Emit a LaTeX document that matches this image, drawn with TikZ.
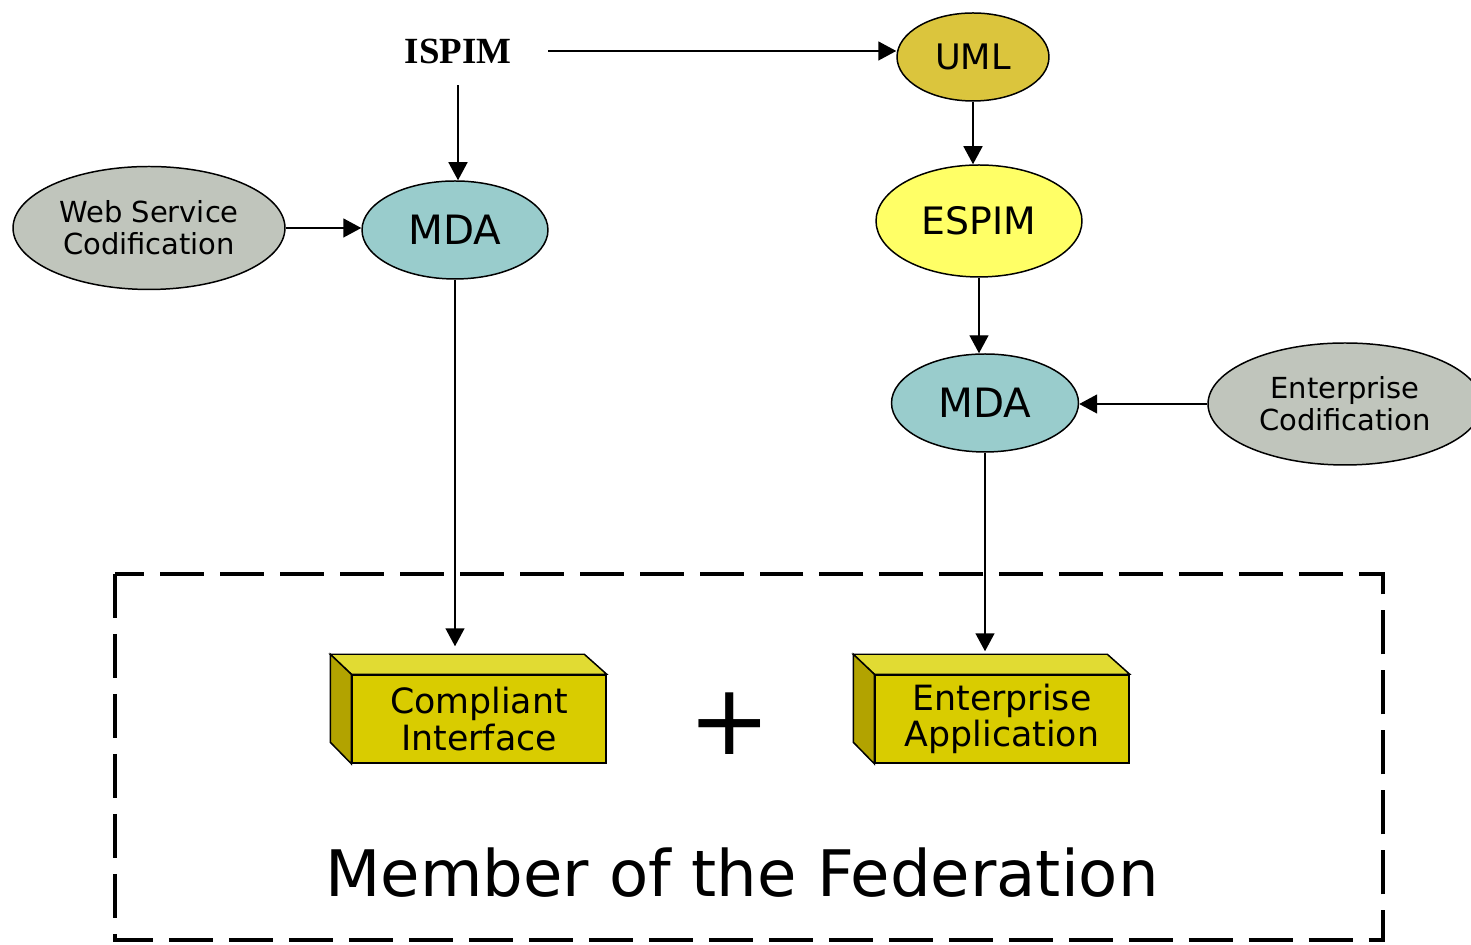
\documentclass[tikz,border=0pt]{standalone}
\usepackage{fontspec}
\setmainfont{DejaVu Sans}
\newfontfamily\ispimfont{Liberation Serif}
\usetikzlibrary{arrows.meta,shapes.geometric}

\definecolor{umlgold}{RGB}{219,197,61}
\definecolor{espimyellow}{RGB}{255,255,102}
\definecolor{mdateal}{RGB}{153,204,204}
\definecolor{codgray}{RGB}{192,197,188}
\definecolor{boxfront}{RGB}{217,204,0}
\definecolor{boxtop}{RGB}{225,219,51}
\definecolor{boxside}{RGB}{178,163,0}

\begin{document}
\begin{tikzpicture}[x=0.02cm,y=0.02cm,
    arr/.style={line width=0.85pt,-{Triangle[length=0.36cm,width=0.38cm]}},
    oval/.style={ellipse,draw,line width=0.85pt,inner sep=0pt,align=center},
    boxline/.style={draw,line width=0.85pt},
    front/.style={rectangle,boxline,fill=boxfront,minimum width=5.08cm,minimum height=1.76cm,inner sep=0pt,align=center}]
    \pgfmathsetmacro{\boxdepth}{21}
    \pgfmathsetmacro{\boxrise}{20}
    \pgfmathsetmacro{\boxwidth}{254}
    \pgfmathsetmacro{\boxheight}{88}
    \providecommand{\codfontsize}{\fontsize{16.5pt}{18.2pt}\selectfont}
    \providecommand{\mdafontsize}{\fontsize{23pt}{25pt}\selectfont}
    \providecommand{\boxfontsize}{\fontsize{19.8pt}{20.6pt}\selectfont}
    \useasboundingbox (0,0) rectangle (1471,945);
    % upper nodes
    \node[font=\ispimfont\bfseries\fontsize{21pt}{24pt}\selectfont,minimum width=3.6cm,minimum height=1.36cm,inner sep=0pt] (ispim) at (458,894) {ISPIM};
    \node[oval,fill=umlgold,minimum width=3.04cm,minimum height=1.76cm,font=\fontsize{20pt}{22pt}\selectfont] (uml) at (973,888) {UML};
    \node[oval,fill=espimyellow,minimum width=4.12cm,minimum height=2.24cm,font=\fontsize{21.5pt}{24pt}\selectfont] (espim) at (979,724) {ESPIM};
    \node[oval,fill=mdateal,minimum width=3.72cm,minimum height=1.96cm,font=\mdafontsize] (mda1) at (455,715) {MDA};
    \node[oval,fill=mdateal,minimum width=3.74cm,minimum height=1.96cm,font=\mdafontsize] (mda2) at (985,542) {MDA};
    \node[oval,fill=codgray,minimum width=5.44cm,minimum height=2.46cm,font=\codfontsize] (wsc) at (149,717) {Web Service\\Codification};
    \node[oval,fill=codgray,minimum width=5.48cm,minimum height=2.44cm,font=\codfontsize] (entcod) at (1345,541) {Enterprise\\Codification};
    % member box
    \draw[line width=2.8pt,dash pattern=on 0.88cm off 0.32cm] (115,371) rectangle (1383,5);
    \node[front,font=\boxfontsize] (ci) at (479,226) {Compliant\\Interface};
    \draw[boxline,fill=boxtop] (ci.north west) -- ++(-\boxdepth,\boxrise) -- ++(\boxwidth,0) -- (ci.north east) -- cycle;
    \draw[boxline,fill=boxside] (ci.north west) -- ++(-\boxdepth,\boxrise) -- ++(0,-\boxheight) -- (ci.south west) -- cycle;
    \node[front,font=\boxfontsize] (ea) at (1002,226) {Enterprise\\Application};
    \draw[boxline,fill=boxtop] (ea.north west) -- ++(-\boxdepth,\boxrise) -- ++(\boxwidth,0) -- (ea.north east) -- cycle;
    \draw[boxline,fill=boxside] (ea.north west) -- ++(-\boxdepth,\boxrise) -- ++(0,-\boxheight) -- (ea.south west) -- cycle;
    \node[font=\fontsize{56pt}{56pt}\selectfont] (plus) at (730,221) {+};
    \node[anchor=base,font=\fontsize{36.5pt}{40pt}\selectfont] (member) at (742,48) {Member of the Federation};
    % connectors
    \draw[arr] (ispim.east) -- (ispim.east -| uml.west);
    \draw[arr] (ispim.south) -- (ispim.south |- mda1.north);
    \draw[arr] (wsc.east) -- (wsc.east -| mda1.west);
    \draw[arr] (uml.south) -- (uml.south |- espim.north);
    \draw[arr] (espim.south) -- (espim.south |- mda2.north);
    \draw[arr] (entcod.west) -- (entcod.west -| mda2.east);
    \draw[arr,shorten >=0.56cm] (mda1.south) -- (mda1.south |- ci.north);
    \draw[arr,shorten >=0.46cm] (mda2.south) -- (mda2.south |- ea.north);
\end{tikzpicture}
\end{document}
